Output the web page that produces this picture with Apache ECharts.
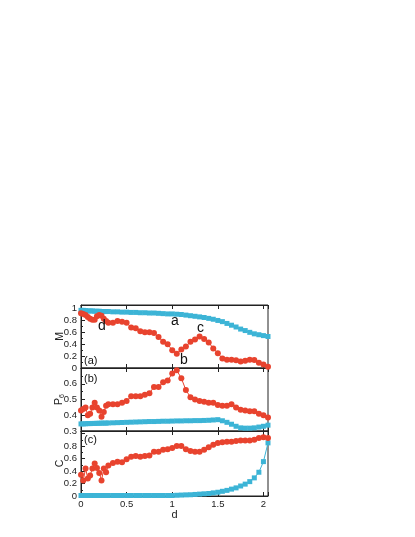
<!DOCTYPE html>
<html><head><meta charset="utf-8">
<script src="https://cdn.jsdelivr.net/npm/echarts@6/dist/echarts.min.js"></script>
<style>html,body{margin:0;padding:0;background:#fff}#c{width:415px;height:537px}</style>
</head><body><div id="c"></div>
<script>
// shared x values (d)
const xs = [0,0.025,0.05,0.075,0.1,0.125,0.15,0.175,0.2,0.225,0.25,0.275,0.3,
  0.35,0.4,0.45,0.5,0.55,0.6,0.65,0.7,0.75,0.8,0.85,0.9,0.95,1.0,1.05,1.1,1.15,1.2,1.25,1.3,1.35,1.4,1.45,1.5,1.55,1.6,1.65,1.7,1.75,1.8,1.85,1.9,1.95,2.0,2.05];

// panel (a): M
const mRed = [0.92,0.91,0.89,0.86,0.83,0.81,0.81,0.87,0.89,0.88,0.83,0.79,0.76,
  0.76,0.79,0.78,0.76,0.68,0.67,0.62,0.60,0.60,0.59,0.52,0.44,0.40,0.30,0.24,0.31,0.36,0.44,0.48,0.53,0.49,0.43,0.33,0.25,0.16,0.14,0.14,0.13,0.11,0.12,0.14,0.135,0.09,0.06,0.02];
const mBlue = [0.97,0.97,0.965,0.96,0.96,0.96,0.955,0.955,0.955,0.95,0.95,0.95,0.95,
  0.945,0.945,0.94,0.94,0.935,0.935,0.93,0.93,0.925,0.925,0.92,0.915,0.91,0.91,0.905,0.9,0.89,0.88,0.87,0.86,0.85,0.835,0.82,0.8,0.78,0.75,0.72,0.69,0.655,0.63,0.6,0.575,0.56,0.545,0.53];

// panel (b): P6
const pRed = [0.43,0.44,0.45,0.40,0.41,0.45,0.48,0.45,0.43,0.39,0.42,0.46,0.47,
  0.47,0.47,0.48,0.49,0.52,0.52,0.52,0.53,0.54,0.58,0.58,0.61,0.62,0.665,0.685,0.635,0.56,0.515,0.50,0.49,0.485,0.48,0.48,0.465,0.46,0.46,0.47,0.45,0.435,0.43,0.425,0.425,0.41,0.40,0.385];
const pBlue = [0.345,0.345,0.346,0.347,0.347,0.348,0.348,0.349,0.349,0.35,0.35,0.35,0.351,
  0.352,0.353,0.354,0.355,0.356,0.357,0.358,0.359,0.36,0.36,0.361,0.362,0.362,0.363,0.364,0.364,0.365,0.365,0.366,0.366,0.367,0.368,0.37,0.372,0.365,0.355,0.343,0.33,0.32,0.318,0.318,0.32,0.325,0.33,0.337];

// panel (c): C
const cRed = [0.34,0.25,0.44,0.28,0.33,0.44,0.52,0.45,0.37,0.25,0.44,0.38,0.49,
  0.53,0.55,0.54,0.59,0.63,0.64,0.63,0.64,0.65,0.71,0.71,0.74,0.75,0.77,0.80,0.80,0.75,0.72,0.71,0.71,0.74,0.78,0.82,0.85,0.86,0.87,0.87,0.88,0.89,0.89,0.89,0.90,0.93,0.94,0.93];
const cBlue = [0.008,0.008,0.008,0.008,0.008,0.008,0.008,0.008,0.008,0.008,0.008,0.008,0.008,
  0.008,0.008,0.008,0.008,0.008,0.008,0.008,0.008,0.008,0.008,0.008,0.008,0.008,0.008,
  0.012,0.015,0.018,0.02,0.025,0.03,0.035,0.04,0.05,0.06,0.075,0.09,0.11,0.13,0.16,0.19,0.23,0.29,0.38,0.55,0.85];

const xTickLabels = [0,0.5,1,1.5,2];
const panelLabels = ['(a)','(b)','(c)'];
const yNames = ['M','P{s|6}','C'];

const RED = '#e8432e', BLUE = '#3cb4d6', AX = '#222';
const FONT = 'Liberation Sans';
const grids = [
  {left:81, top:305, width:187, height:63},
  {left:81, top:368, width:187, height:63},
  {left:81, top:431, width:187, height:65}
];
const yRanges = [{min:0,max:1.06,interval:0.2,hi:1.0},{min:0.3,max:0.7,interval:0.1,hi:0.65},{min:0,max:1.04,interval:0.2,hi:0.85}];

function pairs(arr){ return xs.map((x,i)=>[x,arr[i]]); }
function fmtNum(v){ return String(Math.round(v*100)/100); }

const xAxis = [], yAxis = [], series = [];
grids.forEach((g,i)=>{
  ['bottom','top'].forEach(pos=>{
    const labeled = (i===2 && pos==='bottom');
    xAxis.push({
      type:'value', gridIndex:i, position:pos, min:0, max:2.05, interval:0.5,
      axisLine:{show:true, onZero:false, lineStyle:{color:AX, width:1}},
      axisTick:{show:true, inside:true, length:4, lineStyle:{color:AX}},
      splitLine:{show:false},
      axisLabel:{show:labeled, color:AX, fontSize:9.5, fontFamily:FONT, margin:3,
        formatter:v=> xTickLabels.some(t=>Math.abs(t-v)<1e-6) ? fmtNum(v) : ''},
      name: labeled ? 'd' : '', nameLocation:'middle', nameGap:13, nameMoveOverlap:false,
      nameTextStyle:{color:AX, fontSize:11, fontFamily:FONT}
    });
  });
  const r = yRanges[i];
  yAxis.push({
    type:'value', gridIndex:i, min:r.min, max:r.max, interval:r.interval,
    axisLine:{show:true, lineStyle:{color:AX, width:1}},
    axisTick:{show:true, inside:true, length:4, lineStyle:{color:AX}},
    minorTick:{show:true, splitNumber:2, length:2, lineStyle:{color:AX}},
    splitLine:{show:false},
    axisLabel:{color:AX, fontSize:9.5, fontFamily:FONT, margin:4,
      formatter:v=>{ const k=(v-r.min)/r.interval; return (Math.abs(k-Math.round(k))<1e-6 && v<=r.hi+1e-6) ? fmtNum(v) : ''; }},
    name: yNames[i], nameLocation:'middle', nameGap:15, nameRotate:90, nameMoveOverlap:false,
    nameTextStyle:{color:AX, fontSize:10.5, fontFamily:FONT,
      rich:{s:{fontSize:7, fontFamily:FONT, color:AX, verticalAlign:'bottom', padding:[7,0,0,0]}}}
  });
});

const sets = [[mRed,mBlue],[pRed,pBlue],[cRed,cBlue]];
sets.forEach((s,i)=>{
  series.push({type:'line', xAxisIndex:2*i, yAxisIndex:i, data:pairs(s[1]),
    symbol:'rect', symbolSize:5, showSymbol:true, itemStyle:{color:BLUE},
    lineStyle:{color:BLUE, width:1}, animation:false, z:2});
  series.push({type:'line', xAxisIndex:2*i, yAxisIndex:i, data:pairs(s[0]),
    symbol:'circle', symbolSize:6, showSymbol:true, itemStyle:{color:RED},
    lineStyle:{color:RED, width:1}, animation:false, z:3});
});

const option = {
  animation:false,
  grid: grids.map(g=>Object.assign({show:true, borderColor:AX, borderWidth:1, backgroundColor:'transparent'}, g)),
  xAxis, yAxis, series,
  graphic:[
    {type:'text', left:84, top:355, z:100, style:{text:panelLabels[0], fill:'#111', font:'11px "'+FONT+'"'}},
    {type:'text', left:84, top:373, z:100, style:{text:panelLabels[1], fill:'#111', font:'11px "'+FONT+'"'}},
    {type:'text', left:84, top:434, z:100, style:{text:panelLabels[2], fill:'#111', font:'11px "'+FONT+'"'}},
    {type:'text', left:171, top:314, z:100, style:{text:'a', fill:'#111', font:'14px "'+FONT+'"'}},
    {type:'text', left:180, top:353, z:100, style:{text:'b', fill:'#111', font:'14px "'+FONT+'"'}},
    {type:'text', left:197, top:321, z:100, style:{text:'c', fill:'#111', font:'14px "'+FONT+'"'}},
    {type:'text', left:98, top:319, z:100, style:{text:'d', fill:'#111', font:'14px "'+FONT+'"'}}
  ]
};
const chart = echarts.init(document.getElementById('c'), null, {renderer:'canvas'});
chart.setOption(option);
</script></body></html>
